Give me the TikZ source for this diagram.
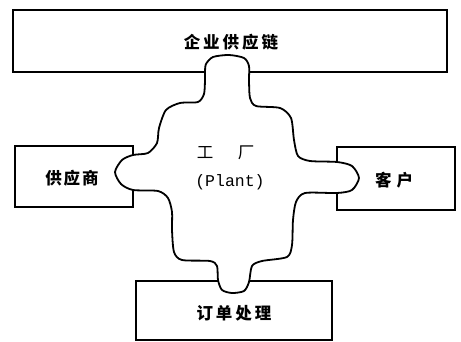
\documentclass[tikz,border=0pt]{standalone}
\usepackage{fontspec}
\newfontfamily\cjk{Noto Sans CJK SC}
\newfontfamily\mono{Liberation Mono}
\begin{document}
\begin{tikzpicture}[x=1pt,y=-1pt,
  box/.style={draw=black,line width=1.8pt,rectangle,inner sep=0pt,fill=white},
  lbl/.style={font=\cjk\bfseries\fontsize{16.5}{18}\selectfont,inner sep=0pt},
  thin/.style={font=\cjk\fontsize{16.5}{18}\selectfont,inner sep=0pt},
  plt/.style={font=\mono\fontsize{16.5}{18}\selectfont,inner sep=0pt}]
\useasboundingbox (0,0) rectangle (461,342);
\node[box,minimum width=434pt,minimum height=62pt] (chain) at (230,41) {};
\node[box,minimum width=118pt,minimum height=61pt] (sup) at (74,176.5) {};
\node[box,minimum width=118pt,minimum height=63pt] (cus) at (396,178.5) {};
\node[box,minimum width=196pt,minimum height=59pt] (ord) at (234,310.5) {};
\draw[line width=1.8pt,fill=white,line join=round]
  plot[smooth cycle,tension=0.45] coordinates {
  (205,72) (206,64) (213,57) (229,55) (244,58) (249,66) (249,80) (250,98)
  (256,106) (280,108) (291,118) (294,140) (298,156) (310,161) (337,162)
  (352,166) (359,178) (352,190) (337,193) (305,193) (296,202) (293,220)
  (292,245) (287,257) (262,261) (252,266) (249,282) (244,291) (232,293)
  (222,290) (218,280) (217,266) (210,261) (182,260) (174,252) (172,230)
  (172,212) (168,198) (158,191) (133,190) (121,184) (115,172) (122,160)
  (133,155) (148,153) (157,143) (159,128) (166,110) (180,103) (198,102)
  (204,94) (205,80)};
\node[lbl] (t1) at (231,42) {企\hspace{3pt}业\hspace{3pt}供\hspace{3pt}应\hspace{3pt}链};
\node[lbl] (t2) at (72,178) {供\hspace{2pt}应\hspace{2pt}商};
\node[lbl] (t3) at (394,180) {客\hspace{5pt}户};
\node[lbl] (t4) at (234,313) {订\hspace{3pt}单\hspace{3pt}处\hspace{3pt}理};
\node[thin] (g1) at (205,153) {工};
\node[thin] (g2) at (246,153) {厂};
\node[plt] (pl) at (230,182) {(Plant)};
\end{tikzpicture}
\end{document}
